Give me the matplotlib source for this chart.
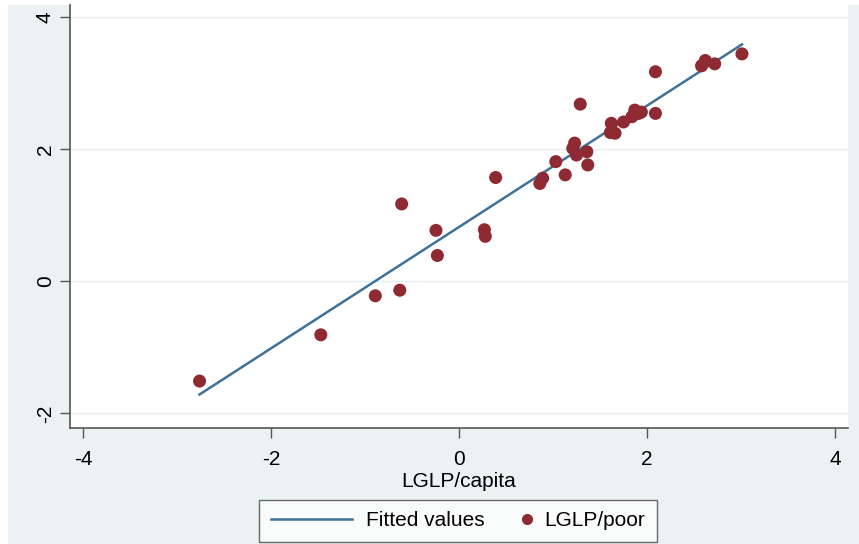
import numpy as np
import matplotlib
matplotlib.use("Agg")
import matplotlib.pyplot as plt
from matplotlib.patches import Rectangle
from matplotlib.lines import Line2D
from matplotlib.legend_handler import HandlerBase
from matplotlib import font_manager

# ---- data ----
lglp_capita = [-2.76, -1.47, -0.89, -0.63, -0.61, -0.245, -0.23, 0.27, 0.28, 0.39,
               0.86, 0.89, 1.03, 1.13, 1.21, 1.23, 1.25, 1.29, 1.36, 1.37,
               1.61, 1.62, 1.66, 1.75, 1.84, 1.87, 1.91, 1.94, 2.09, 2.09,
               2.58, 2.62, 2.72, 3.01]
lglp_poor = [-1.51, -0.81, -0.22, -0.135, 1.17, 0.77, 0.39, 0.78, 0.68, 1.57,
             1.48, 1.56, 1.81, 1.61, 2.01, 2.09, 1.91, 2.68, 1.96, 1.76,
             2.25, 2.39, 2.24, 2.41, 2.49, 2.59, 2.54, 2.56, 2.54, 3.17,
             3.26, 3.34, 3.29, 3.44]
x_ticks = [-4, -2, 0, 2, 4]
y_ticks = [-2, 0, 2, 4]
x_label = "LGLP/capita"
legend_labels = ["Fitted values", "LGLP/poor"]

LINE_C = '#3f7199'
DOT_C = '#8f2a33'
FS = 15

# ---- fonts ----
avail = {f.name for f in font_manager.fontManager.ttflist}
fam = "Liberation Sans Narrow" if "Liberation Sans Narrow" in avail else "Liberation Sans"
plt.rcParams['font.family'] = [fam, 'DejaVu Sans']

W, H = 859, 544
fig = plt.figure(figsize=(W / 100, H / 100), dpi=100)
fig.patch.set_facecolor('#eaf2f3')
fig.patches.append(Rectangle((0, 0), 8 / W, 1, transform=fig.transFigure,
                             facecolor='white', edgecolor='none', zorder=-1))
fig.patches.append(Rectangle((0, 1 - 5 / H), 1, 5 / H, transform=fig.transFigure,
                             facecolor='white', edgecolor='none', zorder=-1))

left, right, top, bottom = 70, 848, 5, 428
ax = fig.add_axes([left / W, 1 - bottom / H, (right - left) / W, (bottom - top) / H])
ax.set_facecolor('white')

x = np.array(lglp_capita)
y = np.array(lglp_poor)
b, a = np.polyfit(x, y, 1)
xs = np.array([x.min(), x.max()])
line, = ax.plot(xs, a + b * xs, color=LINE_C, lw=1.8, zorder=2)
pts = ax.scatter(x, y, s=88, color=DOT_C, edgecolors='none', zorder=3)

ax.set_xlim(-4.138, 4.138)
ax.set_ylim(-2.22, 4.18)
ax.set_xticks(x_ticks)
ax.set_yticks(y_ticks)
ax.set_xticklabels([str(t) for t in x_ticks])
ax.set_yticklabels([str(t) for t in y_ticks], rotation=90, va='center')
for sp in ['top', 'right']:
    ax.spines[sp].set_visible(False)
for sp in ['left', 'bottom']:
    ax.spines[sp].set_color('#555555')
    ax.spines[sp].set_linewidth(1.2)
ax.tick_params(axis='both', direction='out', length=7, width=1.0,
               color='#555555', labelsize=FS, labelcolor='black')
ax.tick_params(axis='x', pad=9)
ax.tick_params(axis='y', pad=4)
ax.grid(axis='y', color='#e6eef0', lw=1.0, zorder=0)
ax.set_axisbelow(True)

ax.set_xlabel(x_label, fontsize=FS, labelpad=2)


class RightDot(HandlerBase):
    def create_artists(self, legend, orig_handle, xdescent, ydescent,
                       width, height, fontsize, trans):
        d = Line2D([width - xdescent - 2.2], [height / 2 - ydescent],
                   marker='o', ms=7, color=DOT_C, ls='none', transform=trans)
        return [d]


leg = fig.legend([line, pts], legend_labels, loc='center',
                 bbox_to_anchor=(458 / W, 1 - 521 / H), ncol=2,
                 fontsize=FS, frameon=True, fancybox=False, handlelength=3.9,
                 handletextpad=0.67, columnspacing=-1.7, borderpad=0.55,
                 handler_map={pts: RightDot()})
fr = leg.get_frame()
fr.set_edgecolor('#444444')
fr.set_linewidth(1.0)
fr.set_facecolor('white')

fig.savefig('out.png', dpi=100, facecolor=fig.get_facecolor())
